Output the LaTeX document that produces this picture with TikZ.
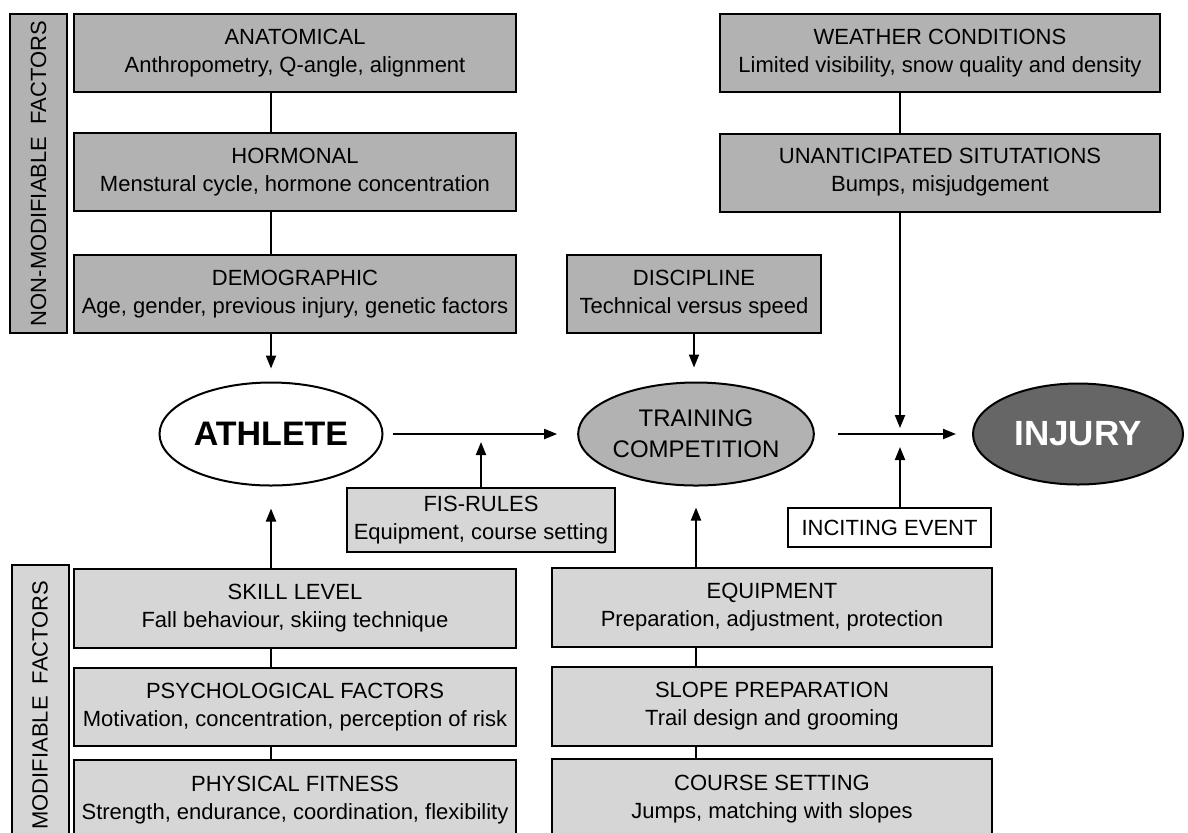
\documentclass[tikz,border=0pt]{standalone}
\usepackage{fontspec}
\setmainfont{Liberation Sans}
\usepackage{xcolor}
\usepackage{tikz}
\usetikzlibrary{arrows.meta, shapes.geometric}
\definecolor{fixedgray}{gray}{0.70}
\definecolor{modgray}{gray}{0.84}
\definecolor{injurygray}{gray}{0.40}
\newcommand{\factorlines}[2]{#1\\#2}

\begin{document}
\begin{tikzpicture}[x=0.5pt, y=-0.5pt, line width=1pt,
		font=\fontsize{11}{14}\selectfont,
		factor/.style={draw, align=center, inner sep=0pt, minimum height=39pt},
		sidelabel/.style={draw, rotate=90, inner sep=0pt, minimum height=28.5pt},
		outcome/.style={draw, ellipse, inner sep=0pt, align=center},
		link/.style={-{Triangle[length=6.5pt, width=5pt]}}]
		\useasboundingbox (0,0) rectangle (1188,832);
		\clip (0,0) rectangle (1188,832);
		% side labels
		\node[sidelabel, fill=fixedgray, minimum width=159.5pt] (fixedlabel) at (38.5,173.5) {NON-MODIFIABLE\ \ FACTORS};
		\node[sidelabel, fill=modgray, minimum width=140pt] (modlabel) at (40,705) {MODIFIABLE\ \ FACTORS};
		% non-modifiable factors
		\node[factor, fill=fixedgray, minimum width=221pt] (anat) at (295,53) {\factorlines{ANATOMICAL}{Anthropometry, Q-angle, alignment}};
		\node[factor, fill=fixedgray, minimum width=221pt] (horm) at (295,172) {\factorlines{HORMONAL}{Menstural cycle, hormone concentration}};
		\node[factor, fill=fixedgray, minimum width=221pt] (demo) at (295,294) {\factorlines{DEMOGRAPHIC}{Age, gender, previous injury, genetic factors}};
		\node[factor, fill=fixedgray, minimum width=127pt] (disc) at (694,294) {\factorlines{DISCIPLINE}{Technical versus speed}};
		\node[factor, fill=fixedgray, minimum width=220pt] (weather) at (940,53) {\factorlines{WEATHER CONDITIONS}{Limited visibility, snow quality and density}};
		\node[factor, fill=fixedgray, minimum width=220pt] (unant) at (940,172.5) {\factorlines{UNANTICIPATED SITUTATIONS}{Bumps, misjudgement}};
		% outcomes
		\node[outcome, fill=white, minimum width=111.5pt, minimum height=51.5pt,
			font=\fontsize{17}{20}\selectfont\bfseries] (athlete) at (271,434) {ATHLETE};
		\node[outcome, fill=fixedgray, minimum width=111pt, minimum height=51.5pt,
			font=\fontsize{12}{15.5}\selectfont] (training) at (696,434) {TRAINING\\COMPETITION};
		\node[outcome, fill=injurygray, text=white, minimum width=105pt, minimum height=50.5pt,
			font=\fontsize{17.5}{20}\selectfont\bfseries] (injury) at (1078,434) {INJURY};
		\coordinate (junction) at (900,435);
		\node[factor, fill=modgray, minimum width=134pt, minimum height=32pt] (fis) at (481,520) {\factorlines{FIS-RULES}{Equipment, course setting}};
		\node[factor, fill=white, minimum width=101.5pt, minimum height=19.5pt] (incite) at (889.5,527.5) {INCITING EVENT};
		% modifiable factors
		\node[factor, fill=modgray, minimum width=221pt, minimum height=39.5pt] (skill) at (295,608) {\factorlines{SKILL LEVEL}{Fall behaviour, skiing technique}};
		\node[factor, fill=modgray, minimum width=221pt] (psych) at (295,707) {\factorlines{PSYCHOLOGICAL FACTORS}{Motivation, concentration, perception of risk}};
		\node[factor, fill=modgray, minimum width=221pt, minimum height=40pt] (phys) at (295,800) {\factorlines{PHYSICAL FITNESS}{Strength, endurance, coordination, flexibility}};
		\node[factor, fill=modgray, minimum width=220pt, minimum height=39.5pt] (equip) at (772,607.5) {\factorlines{EQUIPMENT}{Preparation, adjustment, protection}};
		\node[factor, fill=modgray, minimum width=220pt, minimum height=39.5pt] (slope) at (772,706.5) {\factorlines{SLOPE PREPARATION}{Trail design and grooming}};
		\node[factor, fill=modgray, minimum width=220pt, minimum height=40pt] (course) at (772,799) {\factorlines{COURSE SETTING}{Jumps, matching with slopes}};
		% chains
		\draw (anat.south -| athlete) -- (horm.north -| athlete);
		\draw (horm.south -| athlete) -- (demo.north -| athlete);
		\draw (skill.south -| athlete) -- (psych.north -| athlete);
		\draw (psych.south -| athlete) -- (phys.north -| athlete);
		\draw (weather.south -| junction) -- (unant.north -| junction);
		\draw (equip.south -| training) -- (slope.north -| training);
		\draw (slope.south -| training) -- (course.north -| training);
		% arrows
		\draw[link, shorten >=6.5pt] (demo.south -| athlete) -- (athlete.north);
		\draw[link, shorten >=11pt] (skill.north -| athlete) -- (athlete.south);
		\draw[link, shorten <=4.5pt, shorten >=10pt] (athlete.east) -- (training.west);
		\draw[link, shorten >=4pt] (fis.north) -- (fis.north |- athlete.east);
		\draw[link, shorten >=7pt] (disc.south) -- (disc.south |- training.north);
		\draw[link, shorten >=10.5pt] (equip.north -| training) -- (training.south);
		\draw[link, shorten <=11.5pt, shorten >=8pt] (training.east) -- (injury.west);
		\draw[link, shorten >=3.5pt] (unant.south -| junction) -- (junction);
		\draw[link, shorten >=6pt] (incite.north -| junction) -- (junction);
	\end{tikzpicture}
\end{document}
